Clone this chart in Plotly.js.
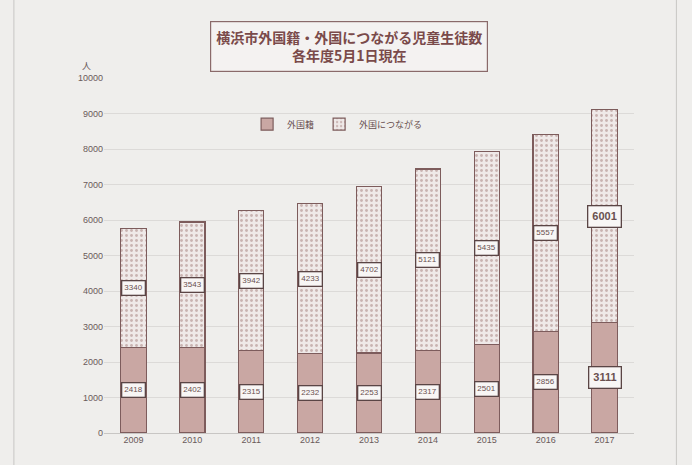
<!DOCTYPE html>
<html><head><meta charset="utf-8">
<script src="https://cdn.plot.ly/plotly-3.0.1.min.js"></script>
<style>html,body{margin:0;padding:0;background:#efeeec}</style>
</head><body>
<div id="chart" style="width:692px;height:465px"></div>
<script>
const years = ['2009','2010','2011','2012','2013','2014','2015','2016','2017'];
const foreignNationals = [2418, 2402, 2315, 2232, 2253, 2317, 2501, 2856, 3111];
const foreignRoots = [3340, 3543, 3942, 4233, 4702, 5121, 5435, 5557, 6001];
const seriesNames = ['外国籍', '外国につながる'];
const titleLines = ['横浜市外国籍・外国につながる児童生徒数', '各年度5月1日現在'];
const yTicks = [0,1000,2000,3000,4000,5000,6000,7000,8000,9000,10000];

const edge = '#7d5c5c';
const traces = [
  {type:'bar', name:seriesNames[0], x:years, y:foreignNationals,
   marker:{color:'#c9a7a3', line:{color:edge, width:1.2}}},
  {type:'bar', name:seriesNames[1], x:years, y:foreignRoots,
   marker:{color:'#ece4e3', line:{color:edge, width:1.2},
     pattern:{shape:'.', fgcolor:'#c9b3b1', bgcolor:'#efe9e8', size:5, solidity:0.25}}}
];

const annotations = [];
years.forEach((yr,i)=>{
  const big = i === years.length-1;
  const f = {family:'Liberation Sans, Arial', size: big?11:8, color:'#6a5050'};
  annotations.push({x:i, y:foreignNationals[i]/2, xref:'x', yref:'y', text: big ? '<b>'+foreignNationals[i]+'</b>' : String(foreignNationals[i]),
    showarrow:false, bgcolor:'#f8f6f5', bordercolor:'#5a4545', borderwidth:1.3, borderpad: big?4:2, font:f});
  annotations.push({x:i, y:foreignNationals[i]+foreignRoots[i]/2, xref:'x', yref:'y', text: big ? '<b>'+foreignRoots[i]+'</b>' : String(foreignRoots[i]),
    showarrow:false, bgcolor:'#f8f6f5', bordercolor:'#5a4545', borderwidth:1.3, borderpad: big?4:2, font:f});
});
annotations.push({x:0.5, y:1.017, xref:'paper', yref:'paper', yanchor:'bottom', xanchor:'center',
  xshift:-20, text:'<b>'+titleLines.join('<br>')+'</b>', showarrow:false, align:'center',
  font:{family:'Noto Sans CJK JP', size:14, color:'#7a4a4a'},
  bgcolor:'#f4f2f1', bordercolor:'#8a6a6a', borderwidth:1.2, borderpad:5});
annotations.push({x:-0.02, y:1.01, xref:'paper', yref:'paper', xanchor:'right', yanchor:'bottom',
  text:'人', showarrow:false, font:{family:'Noto Sans CJK JP', size:9, color:'#6a5a5a'}});

const layout = {
  width:692, height:465,
  margin:{l:104, r:58, t:78, b:32},
  paper_bgcolor:'#efeeec', plot_bgcolor:'#efeeec',
  barmode:'stack', bargap:0.57,
  showlegend:true,
  legend:{orientation:'h', x:0.27, y:0.87, xanchor:'left', yanchor:'middle',
    font:{family:'Noto Sans CJK JP', size:9, color:'#6a5050'}, bgcolor:'rgba(0,0,0,0)', traceorder:'normal'},
  xaxis:{type:'category', range:[-0.5, 8.5], tickfont:{family:'Liberation Sans, Arial', size:9, color:'#6a5a5a'},
    showgrid:false, zeroline:false, showline:false, ticks:''},
  yaxis:{range:[0,10000], tickvals:yTicks, ticktext:yTicks.map(String),
    tickfont:{family:'Liberation Sans, Arial', size:9, color:'#6a5a5a'},
    showgrid:true, gridcolor:'#dcdad8', gridwidth:1, zeroline:true, zerolinecolor:'#c8c6c4', showline:false, ticks:''},
  annotations:annotations,
  shapes:[{type:'rect', xref:'paper', yref:'paper', x0:-0.17, x1:1.08, y0:-0.1, y1:1.23,
    line:{color:'#c8c6c4', width:1}}]
};
Plotly.newPlot('chart', traces, layout, {displayModeBar:false, staticPlot:true});
</script>
</body></html>
